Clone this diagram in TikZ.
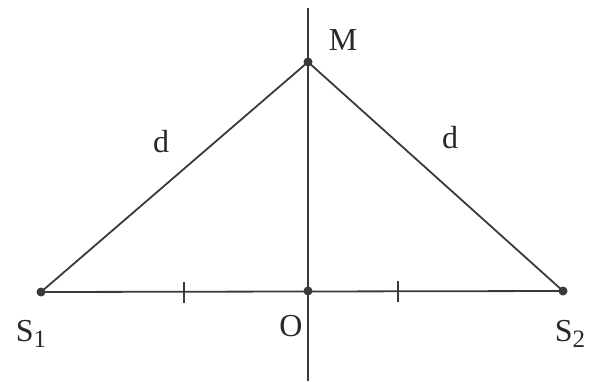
\documentclass[tikz,border=0pt]{standalone}
\usepackage{fontspec}
\setmainfont{Liberation Serif}
\usepackage{tikz}
\usetikzlibrary{positioning, calc}
\definecolor{lineGray}{HTML}{3A3A3A}
\newcommand{\sub}[1]{\raisebox{-0.45ex}{\fontsize{25}{30}\selectfont #1}}

\begin{document}
\begin{tikzpicture}[x=1pt, y=-1pt,
    every node/.style={font=\fontsize{32}{36}\selectfont, text=lineGray!70!black},
    pt/.style={circle, fill=lineGray, inner sep=0pt, minimum size=9pt},
    seg/.style={draw=lineGray, line width=1.8pt}]
    \useasboundingbox[fill=white] (0,0) rectangle (592,381);
    % points
    \node[pt] (s1) at (41,292) {};
    \node[pt] (s2) at (563,291) {};
    \node[pt] (o) at (308,291) {};
    \node[pt] (m) at (308,62) {};
    \coordinate (top) at (308,8);
    \coordinate (bot) at (308,381);
    \coordinate (t1) at (184,292);
    \coordinate (t2) at (398,291);
    % lines
    \draw[seg] (top) -- (bot);
    \draw[seg] (s1.center) -- (s2.center);
    \draw[seg] (s1.center) -- (m.center) -- (s2.center);
    \draw[seg] ($(t1)+(0,-10)$) -- ($(t1)+(0,11)$);
    \draw[seg] ($(t2)+(0,-10)$) -- ($(t2)+(0,11)$);
    % labels
    \node (lm) at (343,40) {M};
    \node (lo) at (291,326) {O};
    \node (ls1) at (31,334) {S\sub{1}};
    \node (ls2) at (570,334) {S\sub{2}};
    \node (d1) at (161,142) {d};
    \node (d2) at (450,138) {d};
\end{tikzpicture}
\end{document}
